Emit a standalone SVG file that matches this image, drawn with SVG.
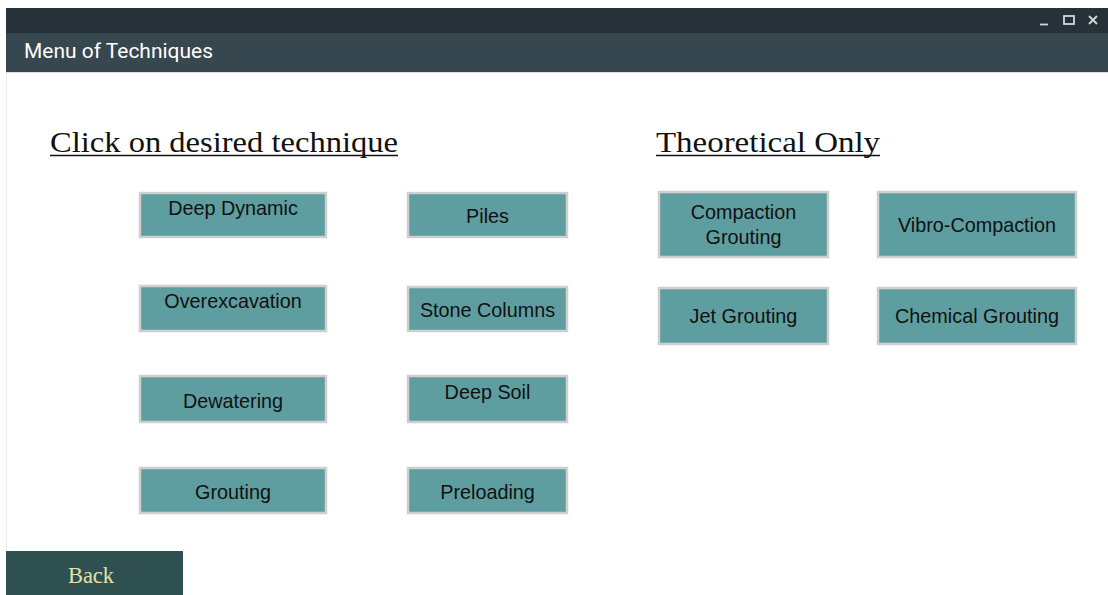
<svg xmlns="http://www.w3.org/2000/svg" width="1108" height="595" viewBox="0 0 1108 595">
<style>
.btn rect{fill:#5f9ea0;stroke:#cfcfcf;stroke-width:2.5}
.btn text{font-family:"Liberation Sans",Arial,sans-serif;font-size:19.8px;fill:#111;text-anchor:middle}
.hdr{font-family:"Liberation Serif","Times New Roman",serif;font-size:29px;fill:#111}
.ul{stroke:#111;stroke-width:1.5}
.ctl{stroke:#cfd8dc;stroke-width:1.8;fill:none}
</style>
<rect x="0" y="0" width="1108" height="595" fill="#ffffff"/>
<g id="window-frame">
<rect x="6" y="8" width="1102" height="25" fill="#263238"/>
<rect x="6" y="33" width="1102" height="39" fill="#37474f"/>
<line x1="6" y1="72.5" x2="1108" y2="72.5" stroke="#dcdcdc" stroke-width="1"/>
<line x1="6.5" y1="73" x2="6.5" y2="551" stroke="#eeeeee" stroke-width="1"/>
<text x="24" y="58" font-family="Roboto,'Liberation Sans',sans-serif" font-size="20" fill="#ffffff" textLength="189" lengthAdjust="spacingAndGlyphs">Menu of Techniques</text>
<line class="ctl" x1="1040" y1="24.5" x2="1048" y2="24.5"/>
<rect class="ctl" x="1064" y="16" width="10" height="8"/>
<path class="ctl" d="M1089 16 L1097 24 M1097 16 L1089 24"/>
</g>
<g id="heading-left">
<text class="hdr" x="50" y="152" textLength="348" lengthAdjust="spacingAndGlyphs">Click on desired technique</text>
<line class="ul" x1="50" y1="155.5" x2="398" y2="155.5"/>
</g>
<g id="heading-right">
<text class="hdr" x="656" y="152" textLength="224" lengthAdjust="spacingAndGlyphs">Theoretical Only</text>
<line class="ul" x1="656" y1="155.5" x2="880" y2="155.5"/>
</g>
<g id="btn-deep-dynamic" class="btn"><rect x="140" y="193" width="186" height="44"/><text x="233" y="215">Deep Dynamic</text></g>
<g id="btn-piles" class="btn"><rect x="408" y="193" width="159" height="44"/><text x="487.5" y="223">Piles</text></g>
<g id="btn-overexcavation" class="btn"><rect x="140" y="286" width="186" height="45"/><text x="233" y="308">Overexcavation</text></g>
<g id="btn-stone-columns" class="btn"><rect x="408" y="287" width="159" height="44"/><text x="487.5" y="317">Stone Columns</text></g>
<g id="btn-dewatering" class="btn"><rect x="140" y="376" width="186" height="46"/><text x="233" y="408">Dewatering</text></g>
<g id="btn-deep-soil" class="btn"><rect x="408" y="376" width="159" height="46"/><text x="487.5" y="399">Deep Soil</text></g>
<g id="btn-grouting" class="btn"><rect x="140" y="468" width="186" height="45"/><text x="233" y="499">Grouting</text></g>
<g id="btn-preloading" class="btn"><rect x="408" y="468" width="159" height="45"/><text x="487.5" y="499">Preloading</text></g>
<g id="btn-compaction-grouting" class="btn"><rect x="659" y="192" width="169" height="65"/><text x="743.5" y="219">Compaction</text><text x="743.5" y="244">Grouting</text></g>
<g id="btn-vibro-compaction" class="btn"><rect x="878" y="192" width="198" height="65"/><text x="977" y="232">Vibro-Compaction</text></g>
<g id="btn-jet-grouting" class="btn"><rect x="659" y="288" width="169" height="56"/><text x="743.5" y="323">Jet Grouting</text></g>
<g id="btn-chemical-grouting" class="btn"><rect x="878" y="288" width="198" height="56"/><text x="977" y="323">Chemical Grouting</text></g>
<g id="btn-back">
<rect x="6" y="551" width="177" height="44" fill="#2f5050"/>
<text x="91" y="583" text-anchor="middle" font-family="'Liberation Serif','Times New Roman',serif" font-size="22.5" fill="#e6e0a8">Back</text>
</g>
</svg>
